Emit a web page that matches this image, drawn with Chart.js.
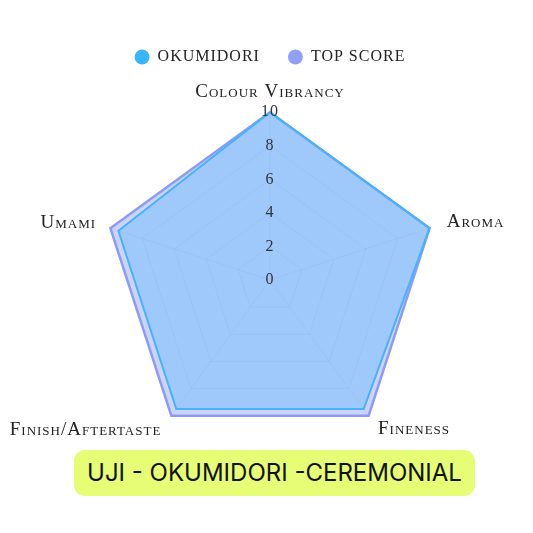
<!DOCTYPE html>
<html>
<head>
<meta charset="utf-8">
<script src="https://cdn.jsdelivr.net/npm/chart.js@4"></script>
<style>
  html, body { margin: 0; padding: 0; background: #fff; }
  body { width: 533px; height: 533px; position: relative; overflow: hidden; }
  #wrap { position: absolute; left: -10px; top: 0; width: 560px; height: 463px; }
  #title {
    position: absolute; left: 74px; top: 450px; width: 401px; height: 46px;
    background: #e6fd75; border-radius: 11px;
    font-family: "Inter", sans-serif; font-size: 24px; color: #111;
    line-height: 46px; text-align: center;
  }
</style>
</head>
<body>
<div id="wrap"><canvas id="radar"></canvas></div>
<div id="title">UJI - OKUMIDORI -CEREMONIAL</div>
<script>
// chart values
const categories = ['Colour Vibrancy', 'Aroma', 'Fineness', 'Finish/Aftertaste', 'Umami'];
const okumidoriScores = [10, 10, 9.5, 9.5, 9.5];
const topScores = [10, 10, 10, 10, 10];
const seriesNames = ['OKUMIDORI', 'TOP SCORE'];

const serif = '"Liberation Serif", "DejaVu Serif", serif';
const legendColors = ['#3ab5f9', '#8fa0f8'];
const labelPadding = [10, 8, 6, 7, 5];

// canvas letter spacing, to get closer to the wide serif of the original
const spacing = {
    id: 'spacing',
    beforeUpdate(chart) { chart.ctx.letterSpacing = '1px'; },
    beforeDraw(chart) { chart.ctx.letterSpacing = '1px'; }
};

// a bit of room under the legend
const legendGap = {
    id: 'legendGap',
    beforeInit(chart) {
        const fit = chart.legend.fit;
        chart.legend.fit = function () {
            fit.bind(chart.legend)();
            this.height += 12;
        };
    }
};

// chart.js skips the first radial tick label, the original shows "0"
const zeroTick = {
    id: 'zeroTick',
    afterDraw(chart) {
        const r = chart.scales.r;
        const t = r.ticks[0];
        const c = chart.ctx;
        c.save();
        c.font = '16px ' + serif;
        c.fillStyle = '#333';
        c.textAlign = 'center';
        c.textBaseline = 'middle';
        c.fillText(String(t.label), r.xCenter, r.yCenter - r.getDistanceFromCenterForValue(t.value));
        c.restore();
    }
};

const ctx = document.getElementById('radar');
const chart = new Chart(ctx, {
    type: 'radar',
    data: {
        labels: categories,
        datasets: [{
            label: seriesNames[0],
            data: okumidoriScores,
            backgroundColor: 'rgba(54, 175, 245, 0.3)',
            borderColor: '#46b2f8',
            borderWidth: 2,
            pointRadius: 0,
            order: 0
        }, {
            label: seriesNames[1],
            data: topScores,
            backgroundColor: 'rgba(143, 160, 248, 0.45)',
            borderColor: '#8c9cf6',
            borderWidth: 2.5,
            pointRadius: 0,
            order: 1
        }]
    },
    plugins: [spacing, legendGap, zeroTick],
    options: {
        responsive: true,
        maintainAspectRatio: false,
        animation: false,
        layout: { padding: { top: 21, bottom: 0, left: 0, right: 0 } },
        plugins: {
            legend: {
                position: 'top',
                labels: {
                    usePointStyle: true,
                    pointStyle: 'circle',
                    boxWidth: 15,
                    boxHeight: 10.6,
                    padding: 28,
                    color: '#222',
                    font: { family: serif, size: 16, weight: 'small-caps 400' },
                    generateLabels: (chart) =>
                        Chart.defaults.plugins.legend.labels.generateLabels(chart).map((item, i) =>
                            Object.assign(item, { fillStyle: legendColors[i], strokeStyle: legendColors[i], lineWidth: 0 }))
                }
            },
            tooltip: { enabled: false }
        },
        scales: {
            r: {
                min: 0,
                max: 10,
                ticks: {
                    z: 1,
                    stepSize: 2,
                    color: '#333',
                    showLabelBackdrop: false,
                    font: { family: serif, size: 16 }
                },
                grid: { color: 'rgba(0,0,0,0.07)' },
                angleLines: { color: 'rgba(0,0,0,0.07)' },
                pointLabels: {
                    color: '#222',
                    padding: (c) => labelPadding[c.index],
                    font: { family: serif, size: 19, weight: 'small-caps 400', lineHeight: 0.01 }
                }
            }
        }
    }
});
</script>
</body>
</html>
